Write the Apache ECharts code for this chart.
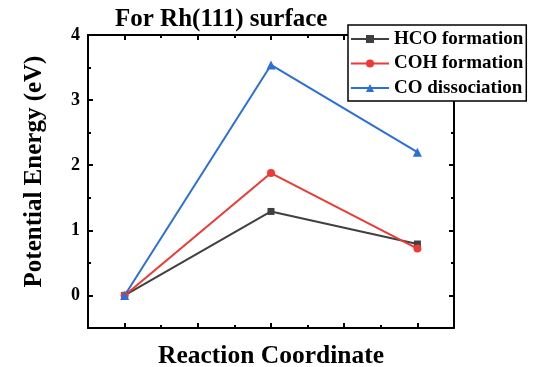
<!DOCTYPE html>
<html><head><meta charset="utf-8">
<script src="https://cdn.jsdelivr.net/npm/echarts@6/dist/echarts.min.js"></script>
<style>html,body{margin:0;padding:0;background:#fff}#c{width:533px;height:367px}</style>
</head><body><div id="c"></div>
<script>
const xPositions = [1, 2, 3];
const hcoValues = [0, 1.29, 0.79];
const cohValues = [0, 1.88, 0.72];
const coValues = [0, 3.54, 2.20];
const seriesNames = ['HCO formation', 'COH formation', 'CO dissociation'];
const yTickValues = [0, 1, 2, 3, 4];
const yMinorValues = [0.5, 1.5, 2.5, 3.5];
const xMajorValues = [1, 1.5, 2, 2.5, 3];
const xMinorValues = [1.25, 1.75, 2.25, 2.75];
const titleText = 'For Rh(111) surface';
const xName = 'Reaction Coordinate';
const yName = 'Potential Energy (eV)';

const FONT = "'Liberation Serif','Times New Roman',serif";
const colors = ['#404040', '#ec3a36', '#2c6fd9'];
const symbols = ['rect', 'circle', 'triangle'];
const symbolSizes = [7, 8, 9];

function xAx(pos, vals, len, showLine, extra) {
  return Object.assign({
    type: 'value', position: pos, min: 0.75, max: 3.25,
    axisLine: {show: showLine, onZero: false, lineStyle: {color: '#000', width: 2}},
    axisTick: {show: true, inside: true, length: len, customValues: vals, lineStyle: {color: '#000', width: 2}},
    axisLabel: {show: false}, splitLine: {show: false}
  }, extra || {});
}
function yAx(pos, vals, len, showLine, extra) {
  return Object.assign({
    type: 'value', position: pos, min: -0.5, max: 4,
    axisLine: {show: showLine, onZero: false, lineStyle: {color: '#000', width: 2}},
    axisTick: {show: true, inside: true, length: len, customValues: vals, lineStyle: {color: '#000', width: 2}},
    axisLabel: {show: false}, splitLine: {show: false}
  }, extra || {});
}

const dataSets = [hcoValues, cohValues, coValues];
const chart = echarts.init(document.getElementById('c'), null, {renderer: 'canvas'});
chart.setOption({
  animation: false,
  backgroundColor: '#fff',
  title: {
    text: titleText, left: 110, top: 2,
    textStyle: {fontFamily: FONT, fontSize: 25, fontWeight: 'bold', color: '#000'}
  },
  grid: {left: 88, right: 79, top: 35, bottom: 39, containLabel: false, outerBoundsMode: 'none'},
  legend: {
    data: seriesNames, orient: 'vertical', left: 348, top: 25,
    borderColor: '#000', borderWidth: 1.5, backgroundColor: '#fff',
    padding: [4, 3, 3, 2], itemWidth: 38, itemHeight: 10, itemGap: 4.5,
    textStyle: {fontFamily: FONT, fontSize: 19, fontWeight: 'bold', color: '#000', lineHeight: 20},
    z: 10
  },
  xAxis: [
    xAx('bottom', xMajorValues, 5, true, {
      name: xName, nameLocation: 'middle', nameGap: 15,
      nameTextStyle: {fontFamily: FONT, fontSize: 25.5, fontWeight: 'bold', color: '#000', verticalAlign: 'top'}
    }),
    xAx('bottom', xMinorValues, 3, false),
    xAx('top', xMajorValues, 5, true),
    xAx('top', xMinorValues, 3, false)
  ],
  yAxis: [
    yAx('left', yTickValues, 5, true, {
      axisLabel: {show: true, customValues: yTickValues, margin: 8,
        fontFamily: FONT, fontSize: 18, fontWeight: 'bold', color: '#000'},
      name: yName, nameLocation: 'middle', nameGap: 41, nameRotate: 90,
      nameTextStyle: {fontFamily: FONT, fontSize: 25, fontWeight: 'bold', color: '#000', padding: [0, 0, 0, 20]}
    }),
    yAx('left', yMinorValues, 3, false),
    yAx('right', yTickValues, 5, true),
    yAx('right', yMinorValues, 3, false)
  ],
  series: dataSets.map((vals, i) => ({
    name: seriesNames[i], type: 'line', xAxisIndex: 0, yAxisIndex: 0,
    data: xPositions.map((x, j) => [x, vals[j]]),
    symbol: symbols[i], symbolSize: symbolSizes[i], showSymbol: true,
    itemStyle: {color: colors[i]},
    lineStyle: {color: colors[i], width: 2}
  }))
});
</script></body></html>
